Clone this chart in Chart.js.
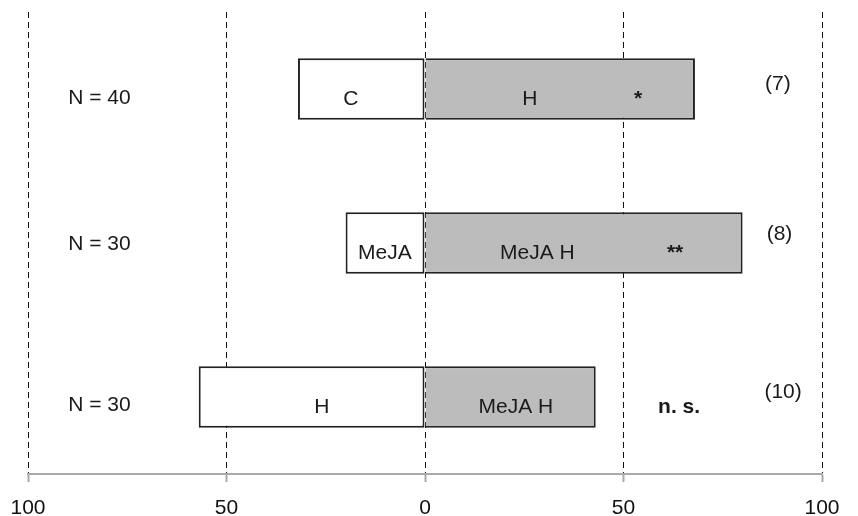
<!DOCTYPE html>
<html>
<head>
<meta charset="utf-8">
<script src="https://cdn.jsdelivr.net/npm/chart.js@4.4.0/dist/chart.umd.min.js"></script>
<style>
  html, body { margin: 0; padding: 0; background: #fff; }
  #wrap { width: 858px; height: 516px; }
</style>
</head>
<body>
<div id="wrap"><canvas id="pref"></canvas></div>
<script>
// preference test rows: left part (negative side) vs right part
const groups = ['N = 40', 'N = 30', 'N = 30'];
const leftShare = [-32, -20, -57];
const rightShare = [68, 80, 43];
const leftLabels = ['C', 'MeJA', 'H'];
const rightLabels = ['H', 'MeJA H', 'MeJA H'];
const signif = ['*', '**', 'n. s.'];
const counts = ['(7)', '(8)', '(10)'];
const xTicks = [-100, -50, 0, 50, 100];

const FONT = '"Liberation Sans", Arial, sans-serif';

// where the texts sit (x in axis units, dy in px from the row centre)
const textPos = {
  groupX: -82, groupDy: [15, 7, 14],
  leftX: [-18.7, -10.1, -26],
  rightX: [26.4, 28.3, 22.9],
  sigX: [53.7, 63, 64],
  countX: [88.9, 89.3, 90.2], countDy: [1, -3, 1],
  labelDy: 15.5
};

const rowText = {
  id: 'rowText',
  afterDatasetsDraw(chart) {
    const ctx = chart.ctx;
    const xs = chart.scales.x, ys = chart.scales.y;
    ctx.save();
    ctx.fillStyle = '#1a1a1a';
    ctx.textAlign = 'center';
    ctx.textBaseline = 'alphabetic';
    groups.forEach((g, i) => {
      const cy = ys.getPixelForValue(i);
      ctx.font = '21px ' + FONT;
      ctx.fillText(g, xs.getPixelForValue(textPos.groupX), cy + textPos.groupDy[i]);
      ctx.fillText(leftLabels[i], xs.getPixelForValue(textPos.leftX[i]), cy + textPos.labelDy);
      ctx.fillText(rightLabels[i], xs.getPixelForValue(textPos.rightX[i]), cy + textPos.labelDy);
      ctx.fillText(counts[i], xs.getPixelForValue(textPos.countX[i]), cy + textPos.countDy[i]);
      ctx.font = 'bold 21px ' + FONT;
      ctx.fillText(signif[i], xs.getPixelForValue(textPos.sigX[i]), cy + textPos.labelDy);
    });
    ctx.restore();
  }
};

new Chart(document.getElementById('pref'), {
  type: 'bar',
  data: {
    labels: groups,
    datasets: [{
      data: leftShare,
      backgroundColor: '#ffffff',
      borderColor: '#222',
      borderWidth: 2,
      borderSkipped: false
    }, {
      data: rightShare,
      backgroundColor: '#bcbcbc',
      borderColor: '#222',
      borderWidth: { top: 2, bottom: 2, right: 2, left: 0 },
      borderSkipped: false
    }]
  },
  options: {
    indexAxis: 'y',
    responsive: true,
    maintainAspectRatio: false,
    animation: false,
    barPercentage: 0.4,
    categoryPercentage: 1,
    layout: { padding: { left: 28, right: 36, top: 12, bottom: -19 } },
    plugins: { legend: { display: false }, tooltip: { enabled: false } },
    scales: {
      x: {
        stacked: true,
        min: -100,
        max: 100,
        afterBuildTicks: s => { s.ticks = xTicks.map(v => ({ value: v })); },
        afterFit: s => { s.paddingLeft = 0; s.paddingRight = 0; },
        ticks: {
          callback: v => Math.abs(v),
          color: '#111',
          padding: 16,
          maxRotation: 0,
          font: { family: FONT, size: 21, lineHeight: 1 }
        },
        grid: {
          color: '#111',
          lineWidth: 1,
          drawTicks: true,
          tickLength: 8,
          tickColor: '#aaa',
          tickWidth: 2
        },
        border: { display: true, color: '#aaa', width: 2, dash: [6, 4] }
      },
      y: {
        stacked: true,
        display: false
      }
    }
  },
  plugins: [rowText]
});
</script>
</body>
</html>
